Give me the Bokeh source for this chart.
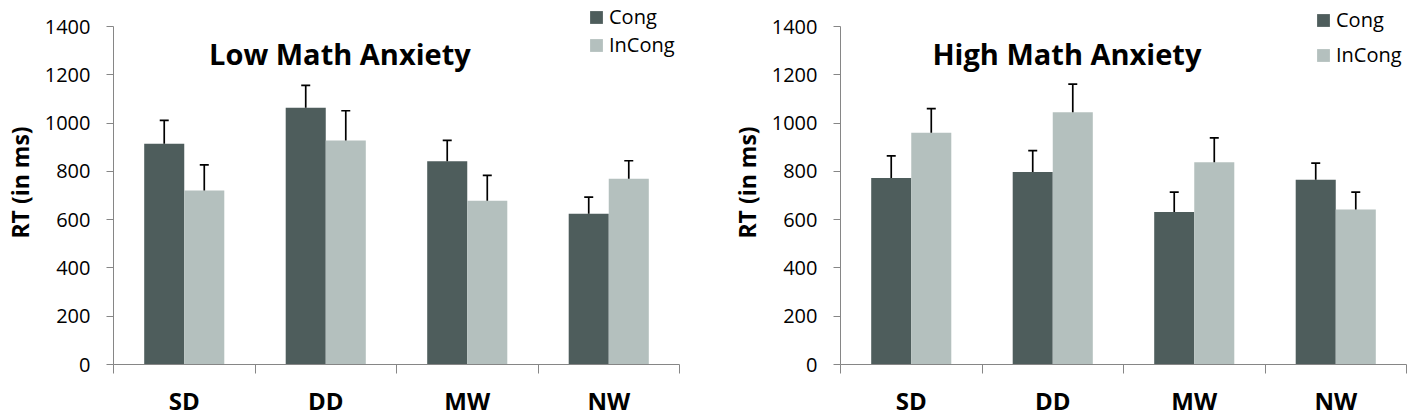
import numpy as np
from bokeh.plotting import figure
from bokeh.models import (ColumnDataSource, Range1d, FixedTicker, Whisker, TeeHead,
                          Label, Legend, LegendItem)
from bokeh.layouts import row
from bokeh.embed import file_html
from bokeh.resources import INLINE

# ---- data ----
categories = ["SD", "DD", "MW", "NW"]
series = ["Cong", "InCong"]
titles = ["Low Math Anxiety", "High Math Anxiety"]

low_cong = [914, 1063, 842, 624]
low_cong_err = [97, 93, 86, 69]
low_incong = [721, 928, 678, 769]
low_incong_err = [106, 123, 105, 75]

high_cong = [772, 797, 632, 765]
high_cong_err = [92, 89, 82, 69]
high_incong = [960, 1045, 838, 642]
high_incong_err = [100, 116, 101, 72]

y_ticks = [0, 200, 400, 600, 800, 1000, 1200, 1400]
y_label = "RT (in ms)"

# ---- styling ----
FONT = "Open Sans"
DARK = "#4e5d5c"
LIGHT = "#b4c0be"
AXIS = "#868686"
FRAME_W = 566
FRAME_H = 364
Y_MAX = FRAME_H * 1400 / 338.0
BAR_W = 0.283
OFF = 0.1415


def make_panel(title, cong, cong_err, incong, incong_err, min_left, min_right,
               legend_loc, legend_spacing):
    n = len(categories)
    xc = np.arange(n) + 0.5
    cong = np.array(cong, dtype=float)
    incong = np.array(incong, dtype=float)
    src = ColumnDataSource(dict(
        x_c=xc - OFF, x_i=xc + OFF,
        cong=cong, cong_up=cong + np.array(cong_err),
        incong=incong, incong_up=incong + np.array(incong_err),
    ))
    p = figure(frame_width=FRAME_W, frame_height=FRAME_H,
               x_range=Range1d(0, n), y_range=Range1d(0, Y_MAX),
               output_backend="svg", toolbar_location=None,
               min_border_left=min_left, min_border_right=min_right,
               min_border_top=0, min_border_bottom=52)
    p.outline_line_color = None
    p.xgrid.visible = False
    p.ygrid.visible = False

    r1 = p.vbar(x="x_c", top="cong", width=BAR_W, source=src,
                fill_color=DARK, line_color=None)
    r2 = p.vbar(x="x_i", top="incong", width=BAR_W, source=src,
                fill_color=LIGHT, line_color=None)

    for base, lo, up in (("x_c", "cong", "cong_up"), ("x_i", "incong", "incong_up")):
        w = Whisker(base=base, lower=lo, upper=up, source=src,
                    line_color="black", line_width=1.7,
                    upper_head=TeeHead(size=9, line_color="black", line_width=1.7),
                    lower_head=None, level="overlay")
        p.add_layout(w)

    # x axis: boundaries as minor ticks, labels at centres
    xa = p.xaxis[0]
    xa.ticker = FixedTicker(ticks=list(xc), minor_ticks=list(range(n + 1)))
    xa.major_label_overrides = {float(x): c for x, c in zip(xc, categories)}
    xa.major_tick_line_color = None
    xa.major_tick_out = 0
    xa.major_tick_in = 0
    xa.minor_tick_out = 9
    xa.minor_tick_in = 0
    xa.minor_tick_line_color = AXIS
    xa.axis_line_color = AXIS
    xa.major_label_text_font = FONT
    xa.major_label_text_font_size = "24px"
    xa.major_label_text_font_style = "bold"
    xa.major_label_text_color = "black"
    xa.major_label_standoff = 10

    ya = p.yaxis[0]
    ya.ticker = FixedTicker(ticks=y_ticks)
    ya.bounds = (0, 1400)
    ya.axis_line_color = AXIS
    ya.major_tick_line_color = AXIS
    ya.major_tick_out = 7
    ya.major_tick_in = 0
    ya.minor_tick_line_color = None
    ya.major_label_text_font = FONT
    ya.major_label_text_font_size = "20px"
    ya.major_label_text_color = "black"
    ya.major_label_standoff = 16
    ya.axis_label = y_label
    ya.axis_label_text_font = FONT
    ya.axis_label_text_font_size = "23px"
    ya.axis_label_text_font_style = "bold"
    ya.axis_label_text_color = "black"
    ya.axis_label_standoff = 6

    p.add_layout(Label(x=1.6, y=1288, text=title, text_align="center",
                       text_baseline="alphabetic", text_font=FONT,
                       text_font_style="bold", text_font_size="29px",
                       text_color="black"))

    legend = Legend(items=[LegendItem(label=series[0], renderers=[r1]),
                           LegendItem(label=series[1], renderers=[r2])],
                    location=legend_loc, padding=0, spacing=legend_spacing,
                    margin=0, glyph_width=16, glyph_height=16, label_standoff=5,
                    label_text_font=FONT, label_text_font_size="20px",
                    label_text_color="black", border_line_color=None,
                    background_fill_alpha=0)
    p.add_layout(legend)
    return p


p1 = make_panel(titles[0], low_cong, low_cong_err, low_incong, low_incong_err,
                111, 48, (475, 306), 1)
p2 = make_panel(titles[1], high_cong, high_cong_err, high_incong, high_incong_err,
                111, 8, (475, 296), 8)

layout = row(p1, p2, spacing=0)
open("out.html", "w").write(file_html(layout, INLINE))
